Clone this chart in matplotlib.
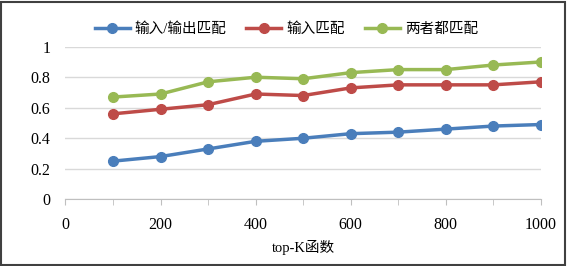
import matplotlib
matplotlib.use("Agg")
import matplotlib.pyplot as plt
from matplotlib.patches import Rectangle

plt.rcParams['font.family'] = ['Liberation Serif', 'Noto Sans CJK SC']

k_values = [100, 200, 300, 400, 500, 600, 700, 800, 900, 1000]
io_match = [0.25, 0.28, 0.33, 0.38, 0.40, 0.43, 0.44, 0.46, 0.48, 0.49]
input_match = [0.56, 0.59, 0.62, 0.69, 0.68, 0.73, 0.75, 0.75, 0.75, 0.77]
both_match = [0.67, 0.69, 0.77, 0.80, 0.79, 0.83, 0.85, 0.85, 0.88, 0.90]
series_names = ['输入/输出匹配', '输入匹配', '两者都匹配']
x_label = 'top-K函数'

colors = ['#4A7EBB', '#BE4B48', '#98B954']

fig = plt.figure(figsize=(5.67, 2.66), dpi=100)
ax = fig.add_axes([0.1155, 0.2508, 0.954 - 0.1155, 0.8244 - 0.2508])

for vals, name, c in zip([io_match, input_match, both_match], series_names, colors):
    ax.plot(k_values, vals, color=c, lw=2.5, marker='o', ms=7, label=name, zorder=3)

ax.set_xlim(0, 1000)
ax.set_ylim(0, 1)
ax.set_xticks(range(0, 1001, 200))
ax.set_xticks(range(0, 1001, 100), minor=True)
ax.set_yticks([0, 0.2, 0.4, 0.6, 0.8, 1])
ax.set_yticklabels(['0', '0.2', '0.4', '0.6', '0.8', '1'])
ax.grid(axis='y', color='#D9D9D9', lw=1)
ax.set_axisbelow(True)
for s in ['top', 'right', 'left']:
    ax.spines[s].set_visible(False)
ax.spines['bottom'].set_color('#BFBFBF')
ax.tick_params(axis='y', length=0, labelsize=11.5, pad=11)
ax.tick_params(axis='x', which='both', length=4, color='#BFBFBF', direction='out', labelsize=11.5, pad=9)
ax.set_xlabel(x_label, fontsize=10.5, labelpad=5)

leg = fig.legend(loc='center', bbox_to_anchor=(0.505, 0.89), ncol=3, frameon=False,
                 fontsize=10.5, handlelength=2.4, columnspacing=1.35, handletextpad=0.35)

fig.patches.append(Rectangle((0.002, 0.004), 0.994, 0.99, transform=fig.transFigure,
                             fill=False, edgecolor='#404040', lw=1.5))

fig.savefig('out.png', dpi=100)
